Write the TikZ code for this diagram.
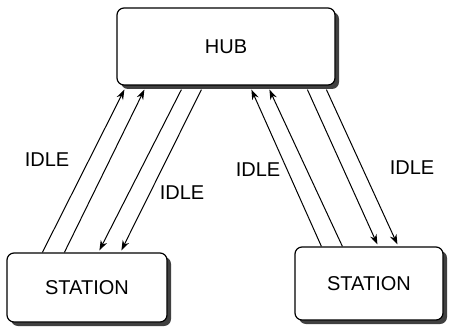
\documentclass[tikz,border=0pt]{standalone}
\usepackage{fontspec}
\setmainfont{Liberation Sans}
\usetikzlibrary{calc,shadows,arrows.meta}
\tikzset{>={Stealth[length=10pt,width=7pt]}}
\tikzset{unit/.style={draw,line width=1.2pt,rounded corners=7pt,fill=white,
    drop shadow={shadow xshift=4pt,shadow yshift=-4pt,fill=black!75,opacity=1}},
  lbl/.style={font=\fontsize{20}{22}\selectfont}}

\begin{document}
\begin{tikzpicture}[x=1pt,y=-1pt,line width=1pt]
      \useasboundingbox (0,0) rectangle (449,334);

      \node[unit,lbl,minimum width=218pt,minimum height=77pt] (hub) at (226,46.5) {HUB};
      \node[unit,lbl,minimum width=160pt,minimum height=69pt] (stl) at (87,287.5) {STATION};
      \node[unit,lbl,minimum width=148pt,minimum height=73pt] (str) at (369,283.5) {STATION};

      % left station
      \draw[->] ($(stl.north west)+(36,0)$) -- ($(hub.south west)+(8,4)$);
      \draw[->] ($(stl.north west)+(58,0)$) -- ($(hub.south west)+(28,4)$);
      \draw[->] ($(hub.south west)+(65,4)$) -- ($(stl.north west)+(93,-2)$);
      \draw[->] ($(hub.south west)+(85,4)$) -- ($(stl.north west)+(115,-2)$);

      % right station
      \draw[->] ($(str.north west)+(27,0)$) -- ($(hub.south west)+(135,4)$);
      \draw[->] ($(str.north west)+(48,0)$) -- ($(hub.south west)+(153,4)$);
      \draw[->] ($(hub.south west)+(191,4)$) -- ($(str.north west)+(83,-2)$);
      \draw[->] ($(hub.south west)+(210,4)$) -- ($(str.north west)+(103,-2)$);

      \node[lbl] (idle1) at (47,160) {IDLE};
      \node[lbl] (idle2) at (182,193) {IDLE};
      \node[lbl] (idle3) at (258,170) {IDLE};
      \node[lbl] (idle4) at (412,168) {IDLE};
\end{tikzpicture}
\end{document}
